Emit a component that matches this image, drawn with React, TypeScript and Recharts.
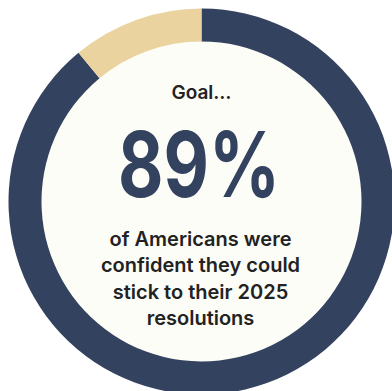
import { PieChart, Pie, Cell, Label } from 'recharts'

const segments = ['Confident', 'Not confident']
const shares = [89, 11]
const segmentColors = ['#33425e', '#ebd3a0']

const headline = 'Goal…'
const bigNumber = '89%'
const captionLines = [
  'of Americans were',
  'confident they could',
  'stick to their 2025',
  'resolutions',
]

const ringData = segments.map((name, i) => ({ name, value: shares[i] }))
const centerData = [{ name: 'center', value: 1 }]

const CX = 201.5
const CY = 201.5
const FONT = "Inter, 'Noto Sans', sans-serif"

function CenterText(props: any) {
  const vb = props.viewBox || {}
  const cx = vb.cx ?? CX
  const cy = vb.cy ?? CY
  return (
    <g>
      <text
        x={cx}
        y={cy - 109.5}
        textAnchor="middle"
        dominantBaseline="central"
        fontFamily={FONT}
        fontWeight={600}
        fontSize={19}
        fill="#222222"
      >
        {headline}
      </text>
      <text
        x={cx - 2.5}
        y={cy - 4.5}
        textAnchor="middle"
        fontFamily={FONT}
        fontWeight={700}
        fontSize={91}
        textLength={162}
        lengthAdjust="spacingAndGlyphs"
        fill="#33425e"
      >
        {bigNumber}
      </text>
      {captionLines.map((line, i) => (
        <text
          key={line}
          x={cx - 1}
          y={cy + 37.5 + i * 26.3}
          textAnchor="middle"
          dominantBaseline="central"
          fontFamily={FONT}
          fontWeight={600}
          fontSize={20}
          fill="#222222"
        >
          {line}
        </text>
      ))}
    </g>
  )
}

export default function App() {
  return (
    <div style={{ position: 'absolute', left: 0, top: 0, width: 392, height: 391, background: '#ffffff' }}>
      <PieChart width={392} height={391} margin={{ top: 0, right: 0, bottom: 0, left: 0 }}>
        <Pie
          data={centerData}
          dataKey="value"
          cx={CX}
          cy={CY}
          innerRadius={0}
          outerRadius={161}
          fill="#fdfdf8"
          stroke="none"
          isAnimationActive={false}
        />
        <Pie
          data={ringData}
          dataKey="value"
          nameKey="name"
          cx={CX}
          cy={CY}
          innerRadius={160}
          outerRadius={193}
          startAngle={90}
          endAngle={-270}
          stroke="none"
          isAnimationActive={false}
        >
          {ringData.map((d, i) => (
            <Cell key={d.name} fill={segmentColors[i]} />
          ))}
          <Label position="center" content={CenterText} />
        </Pie>
      </PieChart>
    </div>
  )
}
